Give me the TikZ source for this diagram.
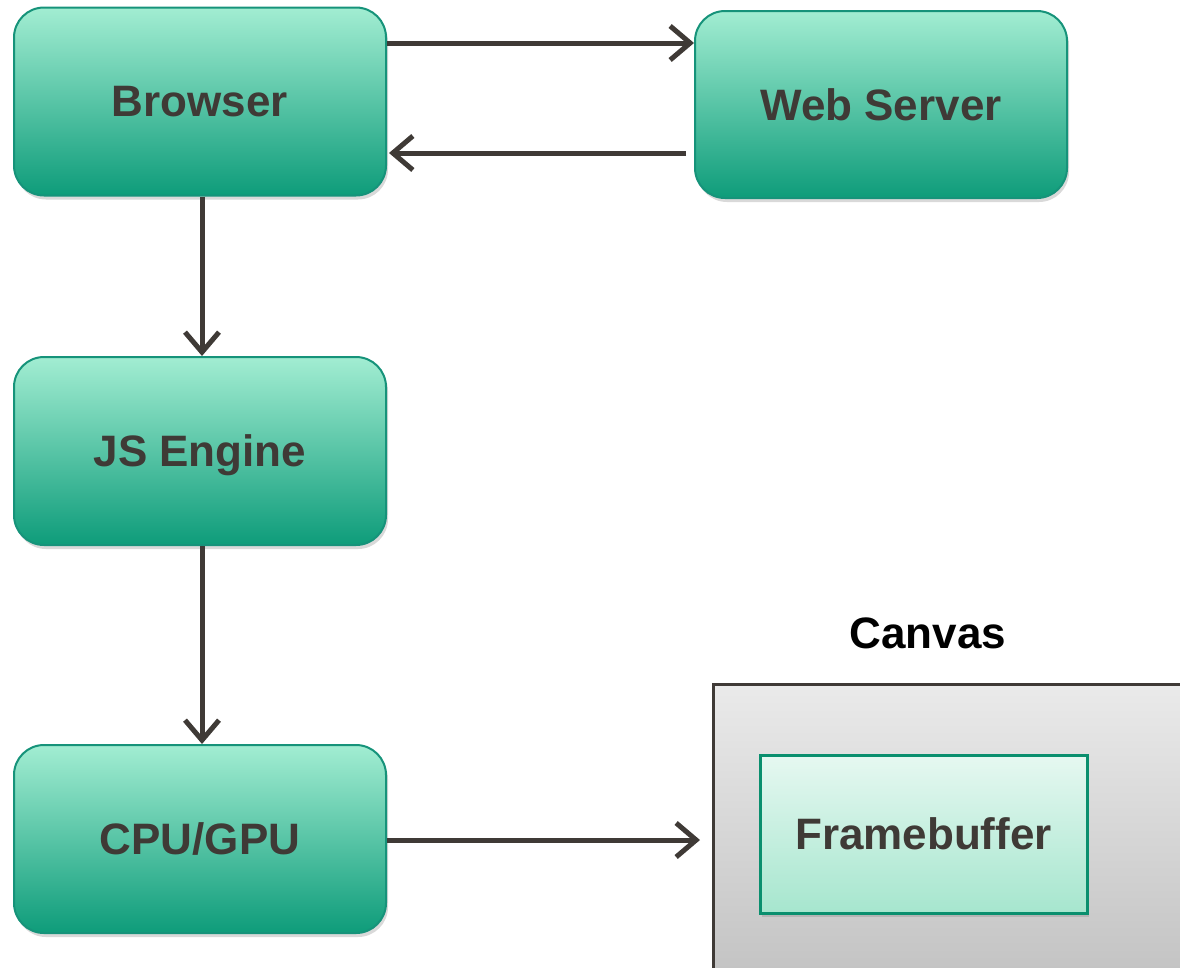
\documentclass[tikz,border=0pt]{standalone}
\usepackage{fontspec}
\setmainfont{Liberation Sans}
\usetikzlibrary{arrows.meta,shadows}
\definecolor{txt}{HTML}{3F3A36}
\definecolor{gtop}{HTML}{A2EDD2}
\definecolor{gbot}{HTML}{0E9C7A}
\definecolor{gborder}{HTML}{16937A}
\definecolor{fborder}{HTML}{0A8F6E}
\definecolor{ftop}{HTML}{E6F8F1}
\definecolor{fbot}{HTML}{A6E6CE}
\definecolor{ctop}{HTML}{EAEAEA}
\definecolor{cbot}{HTML}{C2C2C2}
\tikzset{
  greenbox/.style={draw=gborder, line width=2pt, rounded corners=30pt,
    top color=gtop, bottom color=gbot, minimum width=372pt, minimum height=188pt,
    text=txt, font=\fontsize{44}{50}\selectfont\bfseries, text depth=0pt, yshift=0pt,
    drop shadow={shadow xshift=2pt, shadow yshift=-4pt, opacity=0.3}},
  fbbox/.style={draw=fborder, line width=3pt, top color=ftop, bottom color=fbot,
    minimum width=327pt, minimum height=158pt, text=txt,
    font=\fontsize{44}{50}\selectfont\bfseries,
    drop shadow={shadow xshift=2pt, shadow yshift=-4pt, opacity=0.3}},
  canvasbox/.style={draw=txt, line width=2.5pt, top color=ctop, bottom color=cbot,
    minimum width=480pt, minimum height=300pt},
  conn/.style={draw=txt, line width=5pt, -{Straight Barb[length=20pt,width=34pt,line width=5pt]}}
}
\begin{document}
\begin{tikzpicture}[x=1pt,y=-1pt]
\useasboundingbox (0,0) rectangle (1180,967);
\node[greenbox] (browser) at (200,101.5) {Browser};
\node[greenbox, minimum height=187pt] (web) at (881,104.5) {Web Server};
\node[greenbox] (js) at (200,451) {JS Engine};
\node[greenbox] (cpu) at (200,839) {CPU/GPU};
\node[canvasbox, anchor=north west] (canvas) at (712,683) {};
\node[fbbox] (fb) at (923.5,834) {Framebuffer};
\node[font=\fontsize{44}{50}\selectfont\bfseries, text=black] (canvaslabel) at (928,633) {Canvas};
\draw[conn] (browser.east |- 0,43) -- (web.west |- 0,43);
\draw[conn] ([xshift=-8pt]web.west |- 0,153) -- ([xshift=2pt]browser.east |- 0,153);
\draw[conn] (browser.south -| 202,0) -- (js.north -| 202,0);
\draw[conn] (js.south -| 202,0) -- (cpu.north -| 202,0);
\draw[conn] (cpu.east |- 0,840) -- ([xshift=-12pt]canvas.west |- 0,840);
\end{tikzpicture}
\end{document}
